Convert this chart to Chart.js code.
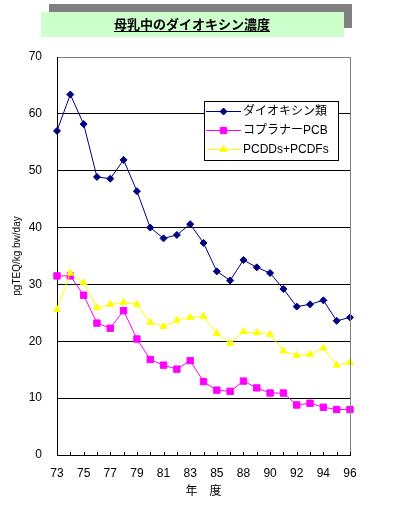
<!DOCTYPE html>
<html><head><meta charset="utf-8">
<script src="https://cdn.jsdelivr.net/npm/chart.js@4.4.1/dist/chart.umd.min.js"></script>
<style>html,body{margin:0;padding:0;background:#fff}#wrap{width:402px;height:512px}</style>
</head><body><div id="wrap"><canvas id="c"></canvas></div>
<script>
const years = ['73','74','75','76','77','78','79','80','81','82','83','84','85','87','88','89','90','91','92','93','94','95','96'];
const dioxin = [57.0,63.4,58.2,48.9,48.6,51.9,46.4,40.0,38.1,38.7,40.6,37.3,32.3,30.7,34.3,33.0,32.0,29.2,26.1,26.5,27.2,23.6,24.2];
const pcb = [31.5,31.5,28.1,23.2,22.3,25.4,20.4,16.8,15.8,15.1,16.6,12.9,11.4,11.2,13.0,11.8,10.9,10.9,8.8,9.1,8.4,8.0,8.0];
const pcdd = [25.6,32.0,30.3,25.9,26.5,26.8,26.5,23.3,22.6,23.7,24.2,24.4,21.4,19.6,21.7,21.5,21.2,18.3,17.5,17.7,18.8,15.8,16.3];
const seriesNames = ['ダイオキシン類','コプラナーPCB','PCDDs+PCDFs'];
const titleText = '母乳中のダイオキシン濃度';
const yTitle = 'pgTEQ/kg bw/day';
const xTitle = '年　度';

const FONT = '"Liberation Sans", "Noto Sans CJK JP", sans-serif';

const deco = {
  id: 'deco',
  beforeDraw(chart) {
    const ctx = chart.ctx;
    ctx.save();
    ctx.fillStyle = '#ffffff';
    ctx.fillRect(0, 0, chart.width, chart.height);
    ctx.fillStyle = '#808080';
    ctx.fillRect(49, 4, 303, 24);
    ctx.fillStyle = '#ccffcc';
    ctx.fillRect(41, 12, 303, 25);
    ctx.fillStyle = '#000';
    ctx.font = 'bold 13px "Noto Sans CJK JP", sans-serif';
    ctx.textAlign = 'center';
    ctx.textBaseline = 'middle';
    ctx.fillText(titleText, 192, 24.5);
    const w = ctx.measureText(titleText).width;
    ctx.fillRect(192 - w / 2, 31, w, 1);
    ctx.restore();
  },
  afterDatasetsDraw(chart) {
    const ctx = chart.ctx;
    const a = chart.chartArea;
    const xs = chart.scales.x;
    ctx.save();
    ctx.strokeStyle = '#808080';
    ctx.lineWidth = 1;
    ctx.beginPath();
    ctx.moveTo(Math.round(a.right) + 0.5, a.top);
    ctx.lineTo(Math.round(a.right) + 0.5, a.bottom);
    ctx.stroke();
    ctx.strokeStyle = '#000';
    ctx.beginPath();
    for (let i = 0; i < years.length; i++) {
      const x = Math.round(xs.getPixelForValue(i)) + 0.5;
      ctx.moveTo(x, a.bottom);
      ctx.lineTo(x, a.bottom - 3);
    }
    ctx.stroke();
    const bx = 204, by = 101, bw = 134, bh = 59;
    ctx.fillStyle = '#fff';
    ctx.fillRect(bx, by, bw, bh);
    ctx.strokeStyle = '#000';
    ctx.strokeRect(bx + 0.5, by + 0.5, bw, bh);
    chart.data.datasets.forEach((ds, i) => {
      const y = by + 10.5 + i * 19;
      ctx.strokeStyle = ds.borderColor;
      ctx.lineWidth = 1;
      ctx.beginPath();
      ctx.moveTo(bx + 2, y);
      ctx.lineTo(bx + 37, y);
      ctx.stroke();
      ctx.fillStyle = ds.pointBackgroundColor;
      ctx.strokeStyle = ds.pointBorderColor;
      Chart.helpers.drawPoint(ctx, {pointStyle: ds.pointStyle, radius: ds.pointRadius, borderWidth: 1, rotation: 0}, bx + 19.5, y);
      ctx.fillStyle = '#000';
      ctx.font = '12px ' + FONT;
      ctx.textAlign = 'left';
      ctx.textBaseline = 'middle';
      ctx.fillText(ds.label, bx + 39, y);
    });
    ctx.restore();
  }
};

new Chart(document.getElementById('c'), {
  type: 'line',
  data: {
    labels: years,
    datasets: [
      {label: seriesNames[0], data: dioxin, order: 2, borderColor: '#000080', backgroundColor: '#000080', pointBackgroundColor: '#000080', pointBorderColor: '#000080', pointStyle: 'rectRot', pointRadius: 3.5, borderWidth: 1, pointBorderWidth: 1, tension: 0},
      {label: seriesNames[1], data: pcb, order: 1, borderColor: '#ff00ff', backgroundColor: '#ff00ff', pointBackgroundColor: '#ff00ff', pointBorderColor: '#ff00ff', pointStyle: 'rect', pointRadius: 4.5, borderWidth: 1, pointBorderWidth: 1, tension: 0},
      {label: seriesNames[2], data: pcdd, order: 0, borderColor: '#ffff00', backgroundColor: '#ffff00', pointBackgroundColor: '#ffff00', pointBorderColor: '#ffff00', pointStyle: 'triangle', pointRadius: 4, borderWidth: 1, pointBorderWidth: 1, tension: 0}
    ]
  },
  options: {
    responsive: true,
    maintainAspectRatio: false,
    animation: false,
    events: [],
    layout: {padding: {top: 57, right: 52, left: 0, bottom: 0}},
    plugins: {legend: {display: false}, title: {display: false}, tooltip: {enabled: false}},
    scales: {
      x: {
        grid: {display: false, drawTicks: false},
        border: {display: true, color: '#000', width: 1},
        ticks: {
          autoSkip: false, maxRotation: 0, padding: 11, color: '#000',
          font: {family: FONT, size: 12},
          callback: function(v, i) { return i % 2 === 0 ? years[i] : ''; }
        },
        title: {display: true, text: xTitle, color: '#000', font: {family: '"Noto Sans CJK JP", sans-serif', size: 12}, padding: {top: 0, bottom: 14}},
        afterFit(s) { s.height = 57; }
      },
      y: {
        min: 0, max: 70,
        grid: {drawTicks: false, color: (c) => c.tick && c.tick.value === 70 ? '#808080' : '#000000', lineWidth: 1},
        border: {display: true, color: '#000', width: 1},
        ticks: {stepSize: 10, padding: 15, color: '#000', font: {family: FONT, size: 12}},
        title: {display: true, text: yTitle, color: '#000', font: {family: FONT, size: 10}, padding: {top: 11, bottom: 0}},
        afterFit(s) { s.width = 57; }
      }
    }
  },
  plugins: [deco]
});
</script>
</body></html>
